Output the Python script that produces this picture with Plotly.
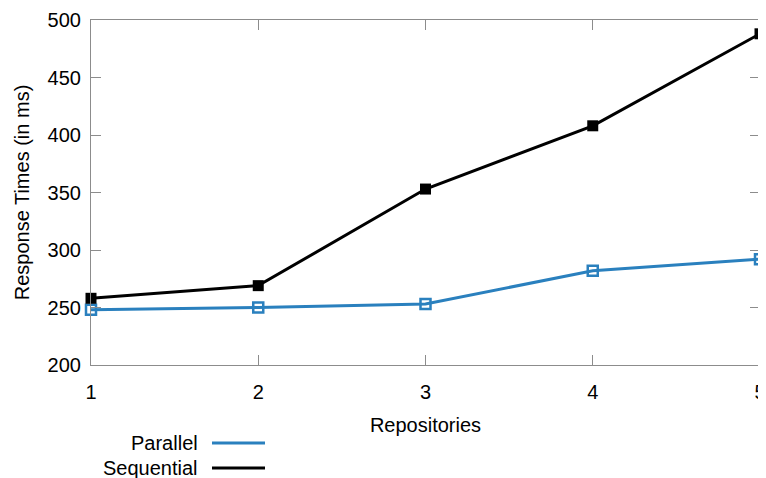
import plotly.graph_objects as go

repositories = [1, 2, 3, 4, 5]
parallel_ms = [248, 250, 253, 282, 292]
sequential_ms = [258, 269, 353, 408, 488]
y_ticks = [200, 250, 300, 350, 400, 450, 500]

BLUE = "#2a80be"
FONT = "Liberation Sans, Arial, sans-serif"
AXC = "#8c8c8c"
FS = 20

# page has an 8px body margin; figure sized to fill the 766x478 window
W, H = 758, 470
OFF = 8
L, T, R, B = 91 - OFF, 20 - OFF, (OFF + W) - 760, (OFF + H) - 365
PW, PH = W - L - R, H - T - B

fig = go.Figure()
fig.add_trace(go.Scatter(
    x=repositories, y=parallel_ms, mode="lines+markers", name="Parallel",
    line=dict(color=BLUE, width=3),
    marker=dict(symbol="square-open", size=10, color=BLUE, line=dict(width=2.5, color=BLUE)),
    cliponaxis=False, showlegend=False))
fig.add_trace(go.Scatter(
    x=repositories, y=sequential_ms, mode="lines+markers", name="Sequential",
    line=dict(color="black", width=3),
    marker=dict(symbol="square", size=11, color="black"),
    cliponaxis=False, showlegend=False))

axis_common = dict(
    showgrid=False, zeroline=False, showline=True, linecolor=AXC, linewidth=1.2,
    ticks="inside", ticklen=10, tickcolor=AXC, tickwidth=1.2, mirror="ticks",
    tickfont=dict(family=FONT, size=FS, color="black"), automargin=False,
)
fig.update_xaxes(range=[1, 5], tickvals=repositories, ticklabelstandoff=9,
                 title=dict(text="Repositories", font=dict(family=FONT, size=FS, color="black"), standoff=15),
                 **axis_common)
fig.update_yaxes(range=[200, 500], tickvals=y_ticks, ticklabelstandoff=5,
                 title=dict(text="Response Times (in ms)", font=dict(family=FONT, size=FS, color="black"), standoff=12),
                 **axis_common)

def px_x(p):
    return (p - OFF - L) / PW

def px_y(p):
    return 1 - (p - OFF - T) / PH

legend_items = [("Parallel", BLUE, 443), ("Sequential", "black", 468)]
for label, color, ypx in legend_items:
    yp = px_y(ypx)
    fig.add_annotation(xref="paper", yref="paper", x=px_x(200), y=yp,
                       text=label, showarrow=False, xanchor="right", yanchor="middle",
                       font=dict(family=FONT, size=FS, color="black"))
    fig.add_shape(type="line", xref="paper", yref="paper",
                  x0=px_x(212), x1=px_x(265), y0=yp, y1=yp,
                  line=dict(color=color, width=3))

fig.update_layout(
    width=W, height=H,
    margin=dict(l=L, r=R, t=T, b=B),
    plot_bgcolor="white", paper_bgcolor="white",
    font=dict(family=FONT, size=FS, color="black"),
)
fig.write_html("out.html")
